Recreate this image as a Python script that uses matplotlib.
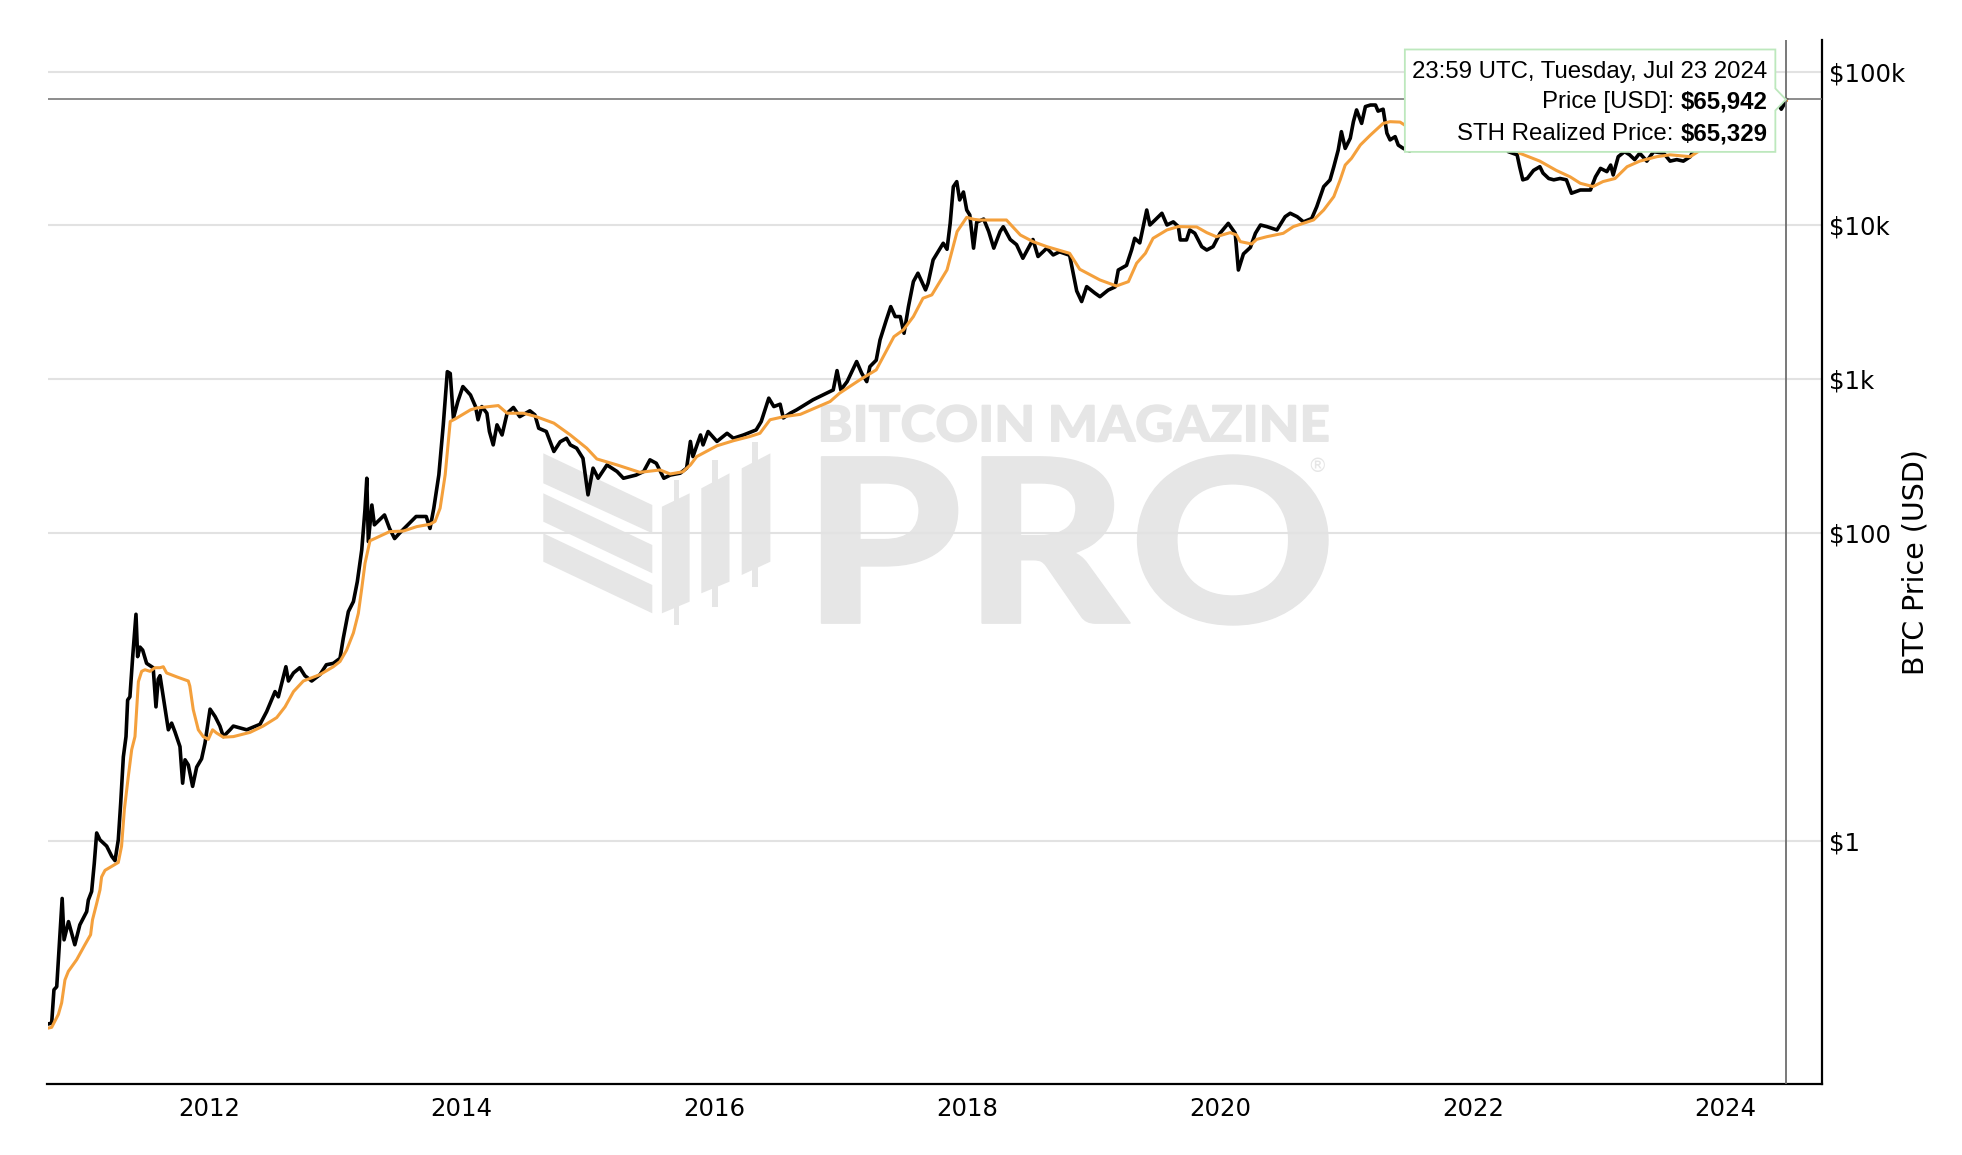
import matplotlib
matplotlib.use("Agg")
import matplotlib.pyplot as plt
from matplotlib.textpath import TextPath
from matplotlib.font_manager import FontProperties
from matplotlib.patches import PathPatch, Polygon
from matplotlib.transforms import Affine2D, IdentityTransform
from matplotlib.ticker import NullLocator

# ---------------- data (decimal years, USD) ----------------
price_t = [2010.725, 2010.757, 2010.775, 2010.797, 2010.817, 2010.84, 2010.855, 2010.89, 2010.915, 2010.94,
           2010.98, 2011.034, 2011.047, 2011.073, 2011.094, 2011.113, 2011.139, 2011.192, 2011.232, 2011.258,
           2011.284, 2011.303, 2011.324, 2011.345, 2011.358, 2011.376, 2011.398, 2011.424, 2011.437, 2011.456,
           2011.477, 2011.508, 2011.56, 2011.582, 2011.6, 2011.614, 2011.64, 2011.68, 2011.706, 2011.732,
           2011.772, 2011.793, 2011.812, 2011.838, 2011.872, 2011.904, 2011.943, 2011.97, 2012.01, 2012.05,
           2012.088, 2012.115, 2012.168, 2012.194, 2012.3, 2012.405, 2012.458, 2012.524, 2012.55, 2012.61,
           2012.63, 2012.67, 2012.72, 2012.76, 2012.814, 2012.88, 2012.93, 2012.985, 2013.038, 2013.064,
           2013.104, 2013.144, 2013.175, 2013.21, 2013.235, 2013.25, 2013.262, 2013.29, 2013.31, 2013.39,
           2013.43, 2013.47, 2013.51, 2013.64, 2013.72, 2013.75, 2013.78, 2013.82, 2013.855, 2013.887,
           2013.91, 2013.935, 2013.97, 2014.01, 2014.07, 2014.11, 2014.13, 2014.16, 2014.2, 2014.22,
           2014.25, 2014.28, 2014.32, 2014.36, 2014.41, 2014.46, 2014.54, 2014.58, 2014.61, 2014.67,
           2014.73, 2014.78, 2014.83, 2014.86, 2014.91, 2014.96, 2015.0, 2015.04, 2015.08, 2015.15,
           2015.23, 2015.28, 2015.38, 2015.44, 2015.49, 2015.54, 2015.6, 2015.65, 2015.73, 2015.78,
           2015.81, 2015.83, 2015.89, 2015.91, 2015.95, 2016.02, 2016.1, 2016.15, 2016.23, 2016.33,
           2016.37, 2016.43, 2016.47, 2016.52, 2016.545, 2016.6, 2016.65, 2016.78, 2016.86, 2016.94,
           2016.97, 2017.0, 2017.05, 2017.125, 2017.165, 2017.205, 2017.23, 2017.28, 2017.31, 2017.36,
           2017.395, 2017.43, 2017.47, 2017.5, 2017.535, 2017.574, 2017.61, 2017.67, 2017.69, 2017.73,
           2017.81, 2017.84, 2017.865, 2017.89, 2017.917, 2017.94, 2017.97, 2017.996, 2018.02, 2018.05,
           2018.075, 2018.13, 2018.17, 2018.21, 2018.26, 2018.285, 2018.34, 2018.39, 2018.44, 2018.52,
           2018.56, 2018.63, 2018.68, 2018.73, 2018.81, 2018.84, 2018.866, 2018.905, 2018.945, 2019.01,
           2019.05, 2019.115, 2019.17, 2019.195, 2019.26, 2019.3, 2019.325, 2019.365, 2019.42, 2019.445,
           2019.485, 2019.54, 2019.58, 2019.63, 2019.67, 2019.685, 2019.735, 2019.76, 2019.8, 2019.855,
           2019.895, 2019.945, 2020.0, 2020.065, 2020.12, 2020.145, 2020.185, 2020.24, 2020.28, 2020.32,
           2020.37, 2020.45, 2020.515, 2020.555, 2020.61, 2020.66, 2020.725, 2020.765, 2020.82, 2020.87,
           2020.9, 2020.935, 2020.96, 2020.99, 2021.03, 2021.055, 2021.08, 2021.12, 2021.15, 2021.19,
           2021.23, 2021.25, 2021.29, 2021.32, 2021.345, 2021.385, 2021.41, 2021.45, 2021.5, 2021.56,
           2021.6, 2021.64, 2021.66, 2021.7, 2021.74, 2021.76, 2021.8, 2021.85, 2021.88, 2021.9,
           2021.96, 2022.0, 2022.03, 2022.07, 2022.1, 2022.16, 2022.2, 2022.24, 2022.28, 2022.35,
           2022.37, 2022.395, 2022.43, 2022.48, 2022.53, 2022.555, 2022.6, 2022.64, 2022.69, 2022.74,
           2022.78, 2022.85, 2022.93, 2022.97, 2023.01, 2023.06, 2023.09, 2023.11, 2023.15, 2023.2,
           2023.24, 2023.28, 2023.32, 2023.376, 2023.43, 2023.51, 2023.56, 2023.613, 2023.665, 2023.72,
           2023.745, 2023.78, 2023.84, 2023.88, 2023.93, 2023.96, 2023.98, 2024.03, 2024.08, 2024.12,
           2024.14, 2024.18, 2024.22, 2024.26, 2024.3, 2024.33, 2024.37, 2024.41, 2024.44, 2024.46,
           2024.48]
price_v = [0.064, 0.065, 0.107, 0.112, 0.205, 0.42, 0.226, 0.297, 0.249, 0.21,
           0.283, 0.345, 0.41, 0.466, 0.71, 1.12, 1.01, 0.92, 0.79, 0.74,
           1.01, 1.75, 3.5, 4.74, 8.2, 8.6, 15.7, 29.6, 15.7, 18.1,
           17.3, 14.2, 13.3, 7.4, 11.2, 11.8, 8.6, 5.25, 5.8, 5.1,
           4.08, 2.36, 3.35, 3.1, 2.25, 3.0, 3.4, 4.3, 7.15, 6.4,
           5.55, 4.74, 5.25, 5.55, 5.25, 5.7, 6.9, 9.3, 8.6, 13.5,
           10.9, 12.3, 13.3, 11.8, 10.9, 12.0, 13.9, 14.2, 15.3, 20.7,
           30.8, 35.8, 48.3, 77.6, 140, 227, 88, 152, 113, 131,
           107, 92, 100, 128, 128, 107, 145, 239, 505, 1120,
           1090, 558, 716, 896, 790, 664, 545, 664, 601, 457,
           374, 505, 434, 601, 655, 571, 623, 586, 480, 457,
           339, 392, 413, 374, 356, 306, 177, 264, 227, 277,
           251, 227, 238, 251, 299, 284, 227, 238, 245, 264,
           394, 314, 434, 374, 457, 394, 445, 413, 434, 468,
           530, 753, 664, 688, 560, 601, 632, 735, 792, 852,
           1138, 852, 965, 1303, 1094, 965, 1208, 1330, 1800, 2430,
           2966, 2555, 2555, 1990, 2966, 4315, 4890, 3810, 4210, 5970,
           7660, 7000, 10300, 17870, 19270, 14650, 16500, 12600, 11700, 7120,
           10500, 11000, 9130, 7120, 9130, 9810, 8100, 7500, 6120, 8100,
           6280, 7120, 6430, 6740, 6400, 4800, 3750, 3200, 4000, 3630,
           3440, 3800, 3985, 5130, 5500, 6920, 8250, 7700, 12600, 10070,
           10830, 12000, 10070, 10550, 9830, 8050, 8050, 9350, 8900, 7280,
           6920, 7280, 8900, 10320, 8900, 5130, 6530, 7200, 8900, 10070,
           9830, 9350, 11400, 12000, 11400, 10550, 11100, 13240, 17880, 19760,
           24100, 30980, 40730, 31700, 36900, 47300, 56400, 46100, 59300, 60700,
           60700, 55400, 57000, 39800, 36000, 37800, 33300, 31700, 30500, 40000,
           47000, 49000, 43000, 42000, 55000, 62000, 61000, 67000, 57000, 49000,
           47000, 42000, 36000, 43000, 38000, 45000, 40000, 38000, 30200, 28800,
           24100, 19800, 20200, 22800, 24100, 21900, 20200, 19800, 20200, 19800,
           16200, 17000, 17000, 20700, 23500, 22400, 24700, 21300, 28000, 30200,
           28800, 26800, 29500, 26200, 30200, 29500, 26200, 26800, 26200, 28000,
           30900, 35000, 37500, 43000, 44000, 46500, 40000, 43000, 52000, 62000,
           72000, 67000, 69000, 60000, 58000, 69000, 70000, 63000, 57000, 61000,
           65942]

sth_t = [2010.717, 2010.757, 2010.81, 2010.836, 2010.862, 2010.889, 2010.955, 2011.02, 2011.065, 2011.08,
         2011.113, 2011.139, 2011.152, 2011.179, 2011.245, 2011.284, 2011.31, 2011.332, 2011.363, 2011.39,
         2011.416, 2011.443, 2011.469, 2011.495, 2011.535, 2011.574, 2011.614, 2011.64, 2011.666, 2011.746,
         2011.838, 2011.85, 2011.877, 2011.917, 2011.956, 2011.996, 2012.03, 2012.062, 2012.115, 2012.194,
         2012.326, 2012.43, 2012.537, 2012.603, 2012.67, 2012.748, 2012.88, 2012.985, 2013.038, 2013.09,
         2013.144, 2013.183, 2013.21, 2013.236, 2013.275, 2013.43, 2013.54, 2013.645, 2013.75, 2013.79,
         2013.83, 2013.87, 2013.91, 2013.95, 2014.07, 2014.12, 2014.22, 2014.29, 2014.36, 2014.49,
         2014.59, 2014.73, 2014.86, 2014.99, 2015.07, 2015.23, 2015.41, 2015.57, 2015.65, 2015.75,
         2015.81, 2015.86, 2016.02, 2016.15, 2016.28, 2016.36, 2016.44, 2016.55, 2016.68, 2016.915,
         2016.99, 2017.15, 2017.28, 2017.42, 2017.495, 2017.574, 2017.65, 2017.72, 2017.84, 2017.92,
         2017.996, 2018.05, 2018.1, 2018.21, 2018.31, 2018.42, 2018.52, 2018.63, 2018.81, 2018.89,
         2019.05, 2019.18, 2019.275, 2019.34, 2019.41, 2019.47, 2019.58, 2019.67, 2019.815, 2019.895,
         2019.97, 2020.08, 2020.13, 2020.16, 2020.25, 2020.29, 2020.37, 2020.5, 2020.58, 2020.74,
         2020.82, 2020.9, 2020.95, 2020.99, 2021.04, 2021.11, 2021.19, 2021.29, 2021.345, 2021.424,
         2021.46, 2021.55, 2021.62, 2021.7, 2021.78, 2021.86, 2021.95, 2022.05, 2022.15, 2022.25,
         2022.32, 2022.37, 2022.53, 2022.66, 2022.77, 2022.85, 2022.95, 2023.03, 2023.125, 2023.22,
         2023.32, 2023.455, 2023.56, 2023.72, 2023.8, 2023.88, 2023.96, 2024.05, 2024.13, 2024.2,
         2024.28, 2024.36, 2024.43, 2024.48]
sth_v = [0.060, 0.061, 0.074, 0.088, 0.124, 0.141, 0.168, 0.21, 0.244, 0.305,
         0.39, 0.477, 0.58, 0.64, 0.69, 0.72, 0.92, 1.59, 2.6, 3.9,
         4.74, 10.8, 12.6, 12.9, 12.6, 13.3, 13.3, 13.5, 12.3, 11.6,
         10.9, 10.1, 7.1, 5.25, 4.74, 4.55, 5.25, 5.0, 4.7, 4.74,
         5.05, 5.55, 6.3, 7.4, 9.3, 10.9, 12.0, 13.5, 14.6, 17.3,
         22.4, 30.0, 43.6, 63.6, 89, 102, 103, 110, 114, 119,
         145, 239, 531, 552, 632, 650, 664, 674, 601, 601,
         571, 518, 434, 356, 303, 277, 248, 257, 242, 250,
         277, 314, 369, 398, 424, 445, 545, 571, 591, 716,
         811, 990, 1150, 1890, 2094, 2555, 3363, 3535, 5140, 9130,
         11300, 10960, 10850, 10850, 10850, 8670, 7850, 7280, 6590, 5190,
         4420, 4040, 4310, 5680, 6600, 8250, 9350, 9830, 9780, 8980,
         8450, 8980, 8680, 7850, 7580, 8120, 8450, 8890, 9830, 10860,
         12600, 15400, 19760, 24700, 27330, 33370, 38750, 46100, 47300, 47000,
         45000, 40000, 37000, 40000, 45000, 52000, 53000, 49000, 44000, 41000,
         36000, 29500, 26200, 22800, 20700, 18800, 17900, 19300, 20200, 24100,
         26200, 28000, 28800, 28000, 30900, 34000, 38000, 41000, 48000, 56000,
         61000, 63500, 64500, 65329]

year_ticks = [2012, 2014, 2016, 2018, 2020, 2022, 2024]
price_ticks = [1, 100, 1000, 10000, 100000]
price_tick_labels = ["$1", "$100", "$1k", "$10k", "$100k"]
hover_date = "23:59 UTC, Tuesday, Jul 23 2024"
hover_price = "$65,942"
hover_sth = "$65,329"

# ---------------- figure ----------------
W, H = 1962, 1155
plt.rcParams['font.family'] = ['DejaVu Sans']
fig = plt.figure(figsize=(W / 100, H / 100), dpi=100)
fig.patch.set_facecolor('white')
ax = fig.add_axes([47.5 / W, 1 - 1084 / H, (1822 - 47.5) / W, (1084 - 40) / H])
ax.set_facecolor('none')

ax.plot(price_t, price_v, color='black', lw=2.6, zorder=3, solid_joinstyle='round')
ax.plot(sth_t, sth_v, color='#F4A03C', lw=2.2, zorder=4, solid_joinstyle='round')

ax.set_yscale('log')
ax.set_xlim(2010.724, 2024.762)
ax.set_ylim(0.0261, 160700)

ax.yaxis.tick_right()
ax.set_yticks(price_ticks)
ax.set_yticklabels(price_tick_labels)
ax.yaxis.set_minor_locator(NullLocator())
ax.set_xticks(year_ticks)
ax.set_xticklabels([str(y) for y in year_ticks])
ax.tick_params(axis='both', length=0, labelsize=17.6, colors='black')
ax.tick_params(axis='y', pad=5)
ax.tick_params(axis='x', pad=9)
ax.grid(axis='y', color='#e2e2e2', lw=1.5)
ax.grid(axis='x', visible=False)
ax.set_axisbelow(True)
for s in ['left', 'top']:
    ax.spines[s].set_visible(False)
for s in ['right', 'bottom']:
    ax.spines[s].set_color('black')
    ax.spines[s].set_linewidth(1.6)

ax.text(1.0525, 0.5, 'BTC Price (USD)', transform=ax.transAxes, rotation=90,
        ha='center', va='center', fontsize=20.5)

# crosshair
ax.axhline(price_v[-1], color='#6e6e6e', lw=1.1, zorder=5)
ax.axvline(price_t[-1], color='#6e6e6e', lw=1.3, zorder=5)

# ---------------- watermark ----------------
WM = '#e6e6e6'
wm_prop = FontProperties(family=['Lato', 'DejaVu Sans'], weight='black')


def fit_text(s, x0, x1, y0, y1):
    tp = TextPath((0, 0), s, size=100, prop=wm_prop)
    ext = tp.get_extents()
    sx = (x1 - x0) / ext.width
    sy = (y1 - y0) / ext.height
    tr = Affine2D().translate(-ext.x0, -ext.y0).scale(sx, sy).translate(x0, H - y1)
    p = PathPatch(tr.transform_path(tp), transform=IdentityTransform(),
                  fc=WM, ec=WM, lw=1.0, zorder=-1)
    fig.add_artist(p)


fit_text("BITCOIN MAGAZINE", 821.5, 1328, 405, 441.7)
fit_text("PRO", 821.5, 1328, 455, 625)
fig.text(1317, H - 472, "®", transform=IdentityTransform(), fontsize=14,
         color=WM, ha='center', va='baseline', zorder=-1)

logo_polys = [
    [(543.3, 453.3), (652.3, 505), (652.3, 533.3), (543.3, 483.3)],
    [(543.3, 493.3), (652.3, 545), (652.3, 573.3), (543.3, 521.7)],
    [(543.3, 533.3), (652.3, 585), (652.3, 613.3), (543.3, 561.7)],
    [(661.9, 506.7), (689.6, 493.3), (689.6, 601.7), (661.9, 613.3)],
    [(673.6, 480), (678.9, 480), (678.9, 625), (673.6, 625)],
    [(701.3, 488.3), (729.5, 473.3), (729.5, 581.7), (701.3, 593.3)],
    [(712.4, 460), (717.8, 460), (717.8, 606.7), (712.4, 606.7)],
    [(741.7, 468.3), (770.4, 453.3), (770.4, 561.7), (741.7, 575)],
    [(752.3, 441.7), (757.7, 441.7), (757.7, 586.7), (752.3, 586.7)],
]
for poly in logo_polys:
    fig.add_artist(Polygon([(x, H - y) for x, y in poly], closed=True,
                           transform=IdentityTransform(), fc=WM, ec='none', zorder=-1))

# ---------------- tooltip ----------------
px, py = ax.transData.transform((price_t[-1], price_v[-1]))
L, R, T, B = px - 381.5, px - 11, py + 50, py - 52.4
tip = [(L, B), (L, T), (R, T), (R, py + 11), (px - 0.5, py), (R, py - 11), (R, B)]
fig.add_artist(Polygon(tip, closed=True, transform=IdentityTransform(),
                       fc='white', ec='#bde8bd', lw=1.3, zorder=10))

tfont = ['Liberation Sans', 'DejaVu Sans']
tsize = 17.3
xr = px - 19
fig.text(xr, py + 21, hover_date, transform=IdentityTransform(), ha='right', va='baseline',
         fontsize=tsize, family=tfont, zorder=11)
renderer = fig.canvas.get_renderer()
for label, val, yb in [("Price [USD]:", hover_price, py - 9),
                       ("STH Realized Price:", hover_sth, py - 40.7)]:
    tb = fig.text(xr, yb, val, transform=IdentityTransform(), ha='right', va='baseline',
                  fontsize=tsize, family=tfont, fontweight='bold', zorder=11)
    wb = tb.get_window_extent(renderer).width
    fig.text(xr - wb - 6.5, yb, label, transform=IdentityTransform(), ha='right',
             va='baseline', fontsize=tsize, family=tfont, zorder=11)

fig.savefig("out.png", dpi=100, facecolor='white')
